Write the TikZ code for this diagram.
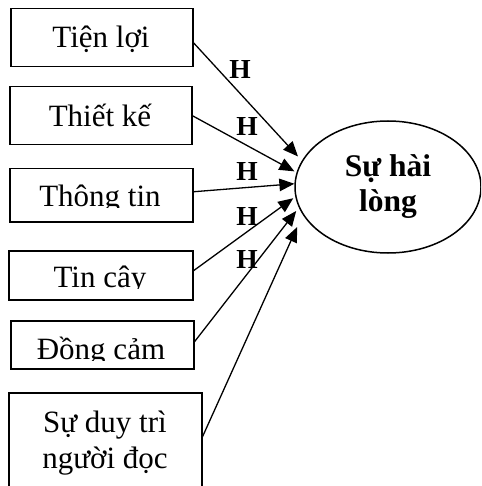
\documentclass[tikz,border=0pt]{standalone}
\usepackage{fontspec}
\setmainfont{Liberation Serif}
\usetikzlibrary{arrows.meta,shapes.geometric}

\tikzset{
  factor/.style={draw, line width=1.5pt, inner sep=0pt, anchor=north west},
  lbl/.style={font=\fontsize{31}{35}\selectfont, anchor=base, inner sep=0pt},
  hyp/.style={font=\bfseries\fontsize{27.5}{30}\selectfont, inner sep=0pt},
  outcome/.style={draw, ellipse, line width=1.5pt, inner sep=0pt,
    minimum width=186pt, minimum height=132pt, align=center,
    font=\bfseries\fontsize{31.5}{35}\selectfont},
  link/.style={line width=1.3pt, -{Triangle[length=15pt,width=12.5pt]}}
}

\begin{document}
\begin{tikzpicture}[x=1pt,y=-1pt]
\clip (0,0) rectangle (481,486);
\fill[white] (0,0) rectangle (481,486);

% factor boxes
\node[factor, minimum width=182pt, minimum height=58pt] (b1) at (10,8) {};
\node[factor, minimum width=182pt, minimum height=58pt] (b2) at (9,86) {};
\node[factor, minimum width=183pt, minimum height=53pt] (b3) at (9,168) {};
\node[factor, minimum width=184pt, minimum height=49pt] (b4) at (8,250) {};
\node[factor, minimum width=183pt, minimum height=48pt] (b5) at (10,320) {};
\node[factor, minimum width=193pt, minimum height=100pt] (b6) at (8,392) {};

% box labels (the text frames cut off the lower lines)
\node[lbl] (t1) at (101,48) {Tiện lợi};
\node[lbl] (t2) at (100,127) {Thiết kế};
\begin{scope}
  \clip (9,168) rectangle (192,207.7);
  \node[lbl] (t3) at (100,206) {Thông tin};
\end{scope}
\begin{scope}
  \clip (8,250) rectangle (192,288.3);
  \node[lbl] (t4) at (100,287) {Tin cậy};
\end{scope}
\begin{scope}
  \clip (10,320) rectangle (193,360);
  \node[lbl] (t5) at (101,359.5) {Đồng cảm};
\end{scope}
\node[lbl] (t6a) at (105,432) {Sự duy trì};
\node[lbl] (t6b) at (105,468) {người đọc};

% outcome
\node[outcome] (sat) at (388,187) {Sự hài\\lòng};

% hypothesis labels
\node[hyp] (h1) at (240,69) {H};
\node[hyp] (h2) at (247,126) {H};
\node[hyp] (h3) at (247,171) {H};
\node[hyp] (h4) at (247,216) {H};
\node[hyp] (h5) at (247,259) {H};

% paths
\draw[link, shorten >=5.7pt] ([yshift=-5pt]b1.east) -- (sat.163.9);
\draw[link, shorten >=2.4pt] (b2.east) -- (sat.171.3);
\draw[link] ([yshift=3.5pt]b3.east) -- (sat.178.8);
\draw[link, shorten >=2.5pt] ([yshift=4.5pt]b4.east) -- (sat.186);
\draw[link, shorten >=4.3pt] ([yshift=3pt]b5.east) -- (sat.193.1);
\draw[link, shorten >=13.5pt] ([yshift=6pt]b6.east) -- (sat.198.2);
\end{tikzpicture}
\end{document}
